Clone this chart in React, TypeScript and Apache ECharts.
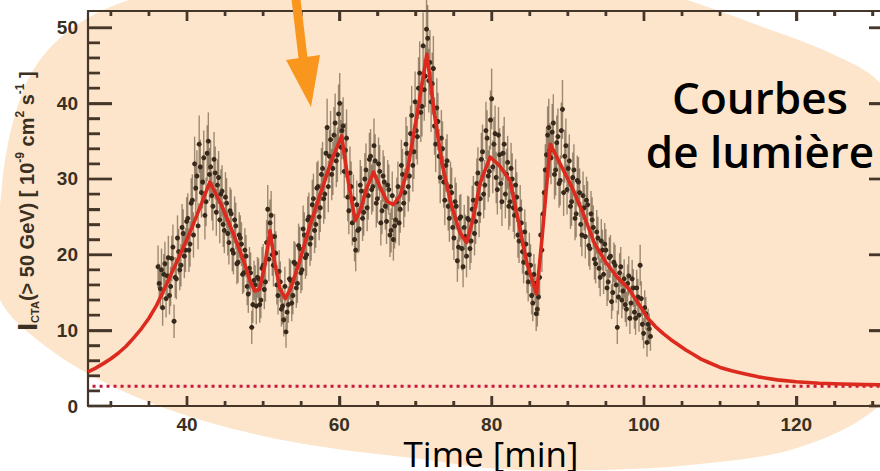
import React, { useEffect, useRef } from "react";
import * as echarts from "echarts";

// ---- observed points, run 1 (time [min], flux, error) ----
const obsTime = [
  36.2, 36.5, 36.8, 37.1, 37.4, 37.7, 38.0, 38.3, 38.6, 38.9, 39.2, 39.5, 39.8, 40.1, 40.4, 40.7, 41.0, 41.3, 41.6, 41.9, 42.2, 42.5, 42.8,
  43.1, 43.4, 43.7, 44.0, 44.3, 44.6, 44.9, 45.2, 45.5, 45.8, 46.1, 46.4, 46.7, 47.0, 47.3, 47.6, 47.9, 48.2, 48.5, 48.8,
  49.1, 49.4, 49.7, 50.0, 50.3, 50.6, 50.9, 51.2, 51.5, 51.8, 52.1, 52.4, 52.7,
  53.0, 53.3, 53.6, 53.9, 54.2, 54.5, 54.8, 55.1, 55.4, 55.7, 56.0, 56.3, 56.6, 56.9, 57.2, 57.5, 57.8, 58.1, 58.4, 58.7, 59.0, 59.3, 59.6, 59.9, 60.2,
  60.5, 60.8, 61.1, 61.4, 61.7, 62.0, 62.3, 62.6, 62.9, 63.2, 63.5, 63.8, 64.1, 64.4, 64.7, 65.0, 65.3, 65.6, 65.9, 66.2, 66.5, 66.8, 67.1,
  67.4, 67.7, 68.0, 68.3, 68.6, 68.9, 69.2, 69.5, 69.8, 70.1, 70.4, 70.7, 71.0, 71.3,
  71.6, 71.9, 72.2, 72.5, 72.8, 73.1, 73.4, 73.7, 74.0, 74.3, 74.6, 74.9, 75.2, 75.5, 75.8, 76.1, 76.4, 76.7,
  77.0, 77.3, 77.6, 77.9, 78.2, 78.5, 78.8, 79.1, 79.4, 79.7, 80.0, 80.3, 80.6, 80.9, 81.2, 81.5, 81.8, 82.1, 82.4,
  82.7, 83.0, 83.3, 83.6, 83.9, 84.2, 84.5, 84.8, 85.1, 85.4, 85.7,
  86.0, 86.3, 86.6, 86.9, 87.2, 87.5,
  87.8, 88.1, 88.4, 88.7, 89.0, 89.3, 89.6, 89.9, 90.2, 90.5, 90.8, 91.1, 91.4, 91.7, 92.0, 92.3, 92.6, 92.9, 93.2, 93.5, 93.8, 94.1,
  94.4, 94.7, 95.0, 95.3, 95.6, 95.9, 96.2, 96.5, 96.8, 97.1, 97.4, 97.7, 98.0, 98.3, 98.6, 98.9, 99.2, 99.5, 99.8, 100.1, 100.4, 100.7,
];
const obsFlux = [
  18.4, 15.5, 13.0, 18.8, 17.2, 14.6, 19.5, 11.2, 16.8, 20.4, 18.6, 22.8, 20.6, 24.8, 21.4, 27.2, 32.0, 30.4, 34.6, 28.2, 32.8, 27.0, 35.0,
  31.6, 26.4, 30.8, 29.2, 24.6, 28.4, 23.2, 26.8, 21.6, 25.4, 20.2, 23.8, 19.0, 22.2, 17.4, 20.6, 15.8, 18.2, 10.4, 16.6,
  13.2, 16.8, 14.0, 18.6, 16.4, 26.0, 24.2, 20.0, 22.4, 16.0, 17.8, 12.8, 11.4,
  9.8, 13.4, 16.6, 14.6, 18.8, 16.2, 20.8, 18.0, 22.6, 20.0, 25.0, 22.2, 27.4, 24.0, 29.0, 26.2, 31.4, 28.0, 36.8, 33.0, 30.6, 35.8, 32.4, 38.6, 34.2,
  37.0, 33.8, 27.6, 30.8, 24.2, 22.0, 26.6, 23.4, 28.4, 25.6, 31.2, 27.8, 33.0, 29.0, 32.4, 27.4, 31.0, 25.8, 29.6, 24.4, 28.6, 23.2, 22.0,
  24.6, 29.0, 26.0, 30.6, 28.2, 33.4, 30.4, 38.4, 33.6, 36.4, 42.0, 38.8, 47.6, 43.6,
  48.6, 45.4, 42.6, 37.0, 39.4, 33.0, 35.4, 29.6, 31.8, 26.4, 29.0, 23.6, 27.0, 19.2, 24.8, 20.8, 23.6, 19.8,
  24.6, 21.8, 27.2, 24.4, 30.8, 27.4, 33.6, 29.2, 35.4, 31.0, 40.6, 34.6, 30.2, 35.8, 29.4, 33.4, 28.0, 32.2, 27.0,
  30.0, 25.2, 27.6, 21.8, 24.2, 19.0, 21.4, 16.4, 18.6, 13.6, 16.2,
  12.8, 17.0, 20.6, 28.2, 33.2, 36.8,
  32.8, 37.4, 31.2, 35.6, 29.8, 39.2, 33.0, 28.6, 32.4, 27.0, 31.2, 25.4, 29.6, 24.0, 27.8, 22.4, 26.6, 20.8, 24.6, 19.4, 23.0, 18.2,
  21.8, 17.4, 20.6, 16.4, 19.8, 15.0, 18.6, 10.4, 17.6, 14.0, 16.8, 12.8, 17.2, 13.6, 15.6, 11.6, 14.4, 18.6, 10.8, 13.0, 8.4, 10.2,
];
const obsErr = [
  2.8, 2.6, 2.4, 2.9, 2.7, 2.5, 3.0, 2.2, 2.7, 3.0, 2.8, 3.2, 2.9, 3.3, 3.0, 3.4, 3.6, 3.4, 3.8, 3.3, 3.6, 3.2, 3.8,
  3.5, 3.2, 3.5, 3.4, 3.1, 3.4, 3.0, 3.3, 2.9, 3.2, 2.8, 3.1, 2.7, 3.0, 2.6, 2.9, 2.5, 2.8, 2.2, 2.6,
  2.4, 2.7, 2.4, 2.8, 2.6, 3.2, 3.1, 2.8, 3.0, 2.6, 2.8, 2.3, 2.2,
  2.1, 2.4, 2.7, 2.5, 2.8, 2.6, 2.9, 2.7, 3.0, 2.8, 3.2, 3.0, 3.3, 3.1, 3.4, 3.2, 3.5, 3.3, 3.8, 3.5, 3.4, 3.7, 3.5, 3.9, 3.6,
  3.8, 3.6, 3.2, 3.5, 3.0, 2.9, 3.2, 3.0, 3.3, 3.1, 3.5, 3.2, 3.6, 3.3, 3.5, 3.2, 3.5, 3.1, 3.4, 3.0, 3.3, 2.9, 2.8,
  3.1, 3.3, 3.1, 3.4, 3.2, 3.6, 3.4, 3.9, 3.6, 3.8, 4.1, 3.9, 4.4, 4.1,
  4.4, 4.3, 4.1, 3.8, 3.9, 3.6, 3.7, 3.4, 3.5, 3.2, 3.3, 3.0, 3.2, 2.8, 3.1, 2.9, 3.0, 2.8,
  3.1, 2.9, 3.2, 3.0, 3.4, 3.2, 3.6, 3.3, 3.7, 3.4, 4.0, 3.6, 3.4, 3.7, 3.4, 3.6, 3.2, 3.5, 3.2,
  3.4, 3.1, 3.3, 2.9, 3.1, 2.8, 2.9, 2.6, 2.8, 2.4, 2.6,
  2.3, 2.6, 2.9, 3.3, 3.6, 3.8,
  3.5, 3.8, 3.4, 3.7, 3.3, 3.9, 3.5, 3.3, 3.5, 3.2, 3.4, 3.1, 3.3, 3.0, 3.2, 2.9, 3.1, 2.8, 3.0, 2.7, 2.9, 2.6,
  2.9, 2.6, 2.8, 2.5, 2.8, 2.4, 2.7, 2.2, 2.6, 2.4, 2.6, 2.3, 2.6, 2.3, 2.5, 2.2, 2.4, 2.7, 2.1, 2.3, 1.9, 2.0,
];

// ---- observed points, run 2 (interleaved) ----
const obsTime2 = [
  36.35, 36.65, 36.95, 37.25, 37.55, 37.85, 38.15, 38.45, 38.75, 39.05, 39.35, 39.65, 39.95, 40.25, 40.55, 40.85, 41.15, 41.45, 41.75, 42.05, 42.35, 42.65, 42.95,
  43.25, 43.55, 43.85, 44.15, 44.45, 44.75, 45.05, 45.35, 45.65, 45.95, 46.25, 46.55, 46.85, 47.15, 47.45, 47.75, 48.05, 48.35, 48.65, 48.95,
  49.25, 49.55, 49.85, 50.15, 50.45, 50.75, 51.05, 51.35, 51.65, 51.95, 52.25, 52.55, 52.85,
  53.15, 53.45, 53.75, 54.05, 54.35, 54.65, 54.95, 55.25, 55.55, 55.85, 56.15, 56.45, 56.75, 57.05, 57.35, 57.65, 57.95, 58.25, 58.55, 58.85, 59.15, 59.45, 59.75, 60.05, 60.35,
  60.65, 60.95, 61.25, 61.55, 61.85, 62.15, 62.45, 62.75, 63.05, 63.35, 63.65, 63.95, 64.25, 64.55, 64.85, 65.15, 65.45, 65.75, 66.05, 66.35, 66.65, 66.95, 67.25,
  67.55, 67.85, 68.15, 68.45, 68.75, 69.05, 69.35, 69.65, 69.95, 70.25, 70.55, 70.85, 71.15, 71.45,
  71.75, 72.05, 72.35, 72.65, 72.95, 73.25, 73.55, 73.85, 74.15, 74.45, 74.75, 75.05, 75.35, 75.65, 75.95, 76.25, 76.55, 76.85,
  77.15, 77.45, 77.75, 78.05, 78.35, 78.65, 78.95, 79.25, 79.55, 79.85, 80.15, 80.45, 80.75, 81.05, 81.35, 81.65, 81.95, 82.25, 82.55,
  82.85, 83.15, 83.45, 83.75, 84.05, 84.35, 84.65, 84.95, 85.25, 85.55, 85.85,
  86.15, 86.45, 86.75, 87.05, 87.35, 87.65,
  87.95, 88.25, 88.55, 88.85, 89.15, 89.45, 89.75, 90.05, 90.35, 90.65, 90.95, 91.25, 91.55, 91.85, 92.15, 92.45, 92.75, 93.05, 93.35, 93.65, 93.95, 94.25,
  94.55, 94.85, 95.15, 95.45, 95.75, 96.05, 96.35, 96.65, 96.95, 97.25, 97.55, 97.85, 98.15, 98.45, 98.75, 99.05, 99.35, 99.65, 99.95, 100.25, 100.55, 100.85,
];
const obsFlux2 = [
  16.2, 18.0, 17.4, 14.2, 19.6, 15.8, 21.0, 17.0, 22.2, 18.0, 23.6, 19.8, 24.4, 20.6, 26.8, 22.6, 28.8, 23.8, 31.6, 29.6, 25.2, 33.4, 30.6,
  27.8, 32.6, 25.6, 30.2, 28.0, 24.0, 27.6, 22.8, 25.8, 20.6, 24.6, 18.8, 22.6, 21.4, 17.6, 19.8, 14.8, 17.6, 13.4, 16.0,
  17.0, 13.4, 18.2, 15.4, 21.6, 19.4, 25.2, 18.6, 20.2, 14.6, 16.4, 13.2, 15.8,
  12.4, 16.8, 13.6, 19.0, 15.6, 21.2, 17.6, 23.4, 19.6, 24.6, 21.4, 26.6, 23.2, 28.8, 25.0, 30.6, 27.4, 33.4, 29.0, 35.2, 31.4, 37.4, 33.2, 40.0, 36.4,
  31.0, 35.4, 25.8, 29.0, 27.4, 20.6, 23.2, 29.2, 24.8, 30.0, 26.2, 32.6, 28.6, 34.4, 26.8, 32.0, 24.2, 30.4, 26.4, 29.2, 22.6, 27.8, 23.8,
  27.0, 24.2, 31.8, 26.8, 34.6, 29.0, 36.0, 31.8, 40.2, 35.6, 44.0, 39.6, 41.8, 49.8,
  43.0, 40.2, 44.6, 34.6, 37.6, 30.2, 34.0, 27.2, 32.4, 24.8, 28.2, 22.2, 26.4, 21.0, 25.0, 18.4, 22.4, 24.8,
  20.8, 26.0, 22.8, 29.4, 25.4, 32.6, 28.0, 36.4, 30.4, 37.8, 31.6, 36.0, 28.6, 33.2, 27.0, 34.6, 30.6, 26.4, 31.4,
  26.2, 29.2, 22.6, 26.0, 20.4, 23.0, 17.6, 20.0, 14.6, 17.4, 12.2,
  14.4, 22.6, 25.4, 31.2, 35.8, 33.8,
  36.2, 30.6, 34.8, 29.4, 36.4, 28.2, 34.4, 31.4, 26.4, 30.2, 24.8, 29.8, 28.2, 22.6, 26.2, 27.2, 21.2, 25.4, 23.6, 18.8, 22.2, 17.0,
  20.6, 21.4, 15.6, 19.6, 13.8, 19.0, 16.0, 14.4, 18.4, 15.2, 13.4, 16.2, 11.6, 16.8, 12.4, 15.6, 12.0, 14.2, 9.6, 12.2, 10.8, 9.2,
];
const obsErr2 = [
  2.6, 2.8, 2.7, 2.5, 2.9, 2.6, 3.0, 2.7, 3.0, 2.7, 3.1, 2.9, 3.2, 2.9, 3.3, 3.0, 3.4, 3.1, 3.6, 3.5, 3.2, 3.7, 3.5,
  3.3, 3.6, 3.1, 3.5, 3.3, 3.0, 3.3, 2.9, 3.1, 2.8, 3.1, 2.7, 3.0, 2.9, 2.6, 2.8, 2.5, 2.7, 2.4, 2.6,
  2.7, 2.4, 2.8, 2.6, 3.0, 2.9, 3.2, 2.8, 2.9, 2.5, 2.7, 2.4, 2.6,
  2.3, 2.7, 2.4, 2.8, 2.6, 2.9, 2.7, 3.1, 2.8, 3.1, 2.9, 3.3, 3.0, 3.4, 3.1, 3.5, 3.3, 3.6, 3.4, 3.8, 3.5, 3.9, 3.6, 4.0, 3.8,
  3.5, 3.8, 3.1, 3.3, 3.2, 2.8, 3.0, 3.3, 3.0, 3.4, 3.1, 3.5, 3.3, 3.6, 3.2, 3.5, 3.0, 3.4, 3.1, 3.3, 2.9, 3.2, 3.0,
  3.2, 3.0, 3.4, 3.2, 3.6, 3.3, 3.7, 3.5, 4.0, 3.7, 4.2, 4.0, 4.1, 4.5,
  4.2, 4.0, 4.3, 3.7, 3.8, 3.4, 3.6, 3.3, 3.5, 3.1, 3.3, 2.9, 3.1, 2.9, 3.0, 2.7, 2.9, 3.0,
  2.8, 3.1, 2.9, 3.3, 3.1, 3.5, 3.2, 3.8, 3.4, 3.9, 3.5, 3.7, 3.3, 3.5, 3.2, 3.6, 3.4, 3.1, 3.4,
  3.2, 3.4, 3.0, 3.2, 2.9, 3.0, 2.7, 2.9, 2.5, 2.7, 2.3,
  2.5, 2.8, 3.1, 3.4, 3.8, 3.6,
  3.7, 3.3, 3.6, 3.2, 3.7, 3.1, 3.6, 3.3, 3.0, 3.3, 2.9, 3.3, 3.2, 2.8, 3.0, 3.1, 2.7, 3.0, 2.9, 2.6, 2.8, 2.5,
  2.7, 2.8, 2.4, 2.7, 2.3, 2.6, 2.4, 2.3, 2.6, 2.4, 2.3, 2.5, 2.1, 2.5, 2.2, 2.4, 2.2, 2.3, 2.0, 2.2, 2.1, 1.9,
];

// ---- fitted light-curve model ----
const modelTime = [
  27, 28, 29, 30, 31, 32, 33, 34, 35, 36, 37, 38, 39, 40.5, 42, 43.0, 44.5, 46, 47.5, 48.3, 48.9, 49.5, 50.2, 50.9, 51.5, 52.2, 52.9, 53.6,
  54.8, 56, 57.5, 59, 60.3, 61.2, 62.1, 62.8, 63.6, 64.5, 65.5, 66.3, 67.1, 68, 69, 70.2, 71.5, 72.5, 73.5, 74.6, 75.8, 76.7,
  77.5, 78.5, 79.8, 81, 82.4, 83.5, 84.6, 85.9, 86.6, 87.7, 89, 90.5, 92, 93.5, 95, 96.5, 98, 99.5, 100.5, 101.5, 102.5, 103.5,
  104.5, 105.5, 106.5, 107.5, 108.5, 110, 111.5, 113, 115, 117.5, 120, 123, 126, 129, 132.7,
];
const modelFlux = [
  4.5, 5.0, 5.6, 6.25, 7.0, 7.9, 9.0, 10.2, 11.6, 13.3, 15.4, 17.6, 19.8, 23.2, 27.0, 29.6, 26.6, 23.0, 19.0, 16.5, 15.2, 15.4, 18.5, 23.2, 19.0, 15.5, 14.2, 15.5,
  19.2, 23.4, 28.0, 32.5, 35.7, 29.5, 24.5, 26.0, 28.8, 30.9, 28.6, 27.0, 26.6, 27.8, 31.5, 38.5, 46.5, 38.5, 32.0, 27.0, 23.0, 21.6,
  24.5, 29.5, 32.9, 31.8, 29.8, 24.5, 19.0, 14.8, 22.0, 34.6, 32.0, 29.0, 25.5, 21.5, 19.0, 17.0, 15.5, 13.2, 11.6, 10.5, 9.6, 8.8,
  8.1, 7.4, 6.8, 6.2, 5.75, 5.1, 4.65, 4.3, 3.85, 3.45, 3.2, 3.0, 2.9, 2.82, 2.78,
];

// ---- constant baseline (dotted) ----
const baselineTime = [27.6, 132.7];
const baselineFlux = [2.6, 2.6];

// ---- ticks / labels ----
const xLabelValues = [40, 60, 80, 100, 120];
const xMinorValues = [30, 35, 45, 50, 55, 65, 70, 75, 85, 90, 95, 105, 110, 115, 125, 130];
const yLabelValues = [0, 10, 20, 30, 40, 50];
const yMinorValues = [2, 4, 6, 8, 12, 14, 16, 18, 22, 24, 26, 28, 32, 34, 36, 38, 42, 44, 46, 48];

const X_MIN = 27;
const X_MAX = 132.7;
const Y_MIN = 0;
const Y_MAX = 52.2;

const AXIS_COLOR = "#45362a";
const LABEL_COLOR = "#3a3022";
const CANVAS_W = 900;
const GRID = { left: 88, right: 7, top: 11, bottom: 65 };
const CANVAS_H = 471;

const labelFont = { fontSize: 19, fontWeight: "bold", fontFamily: "Liberation Sans", color: LABEL_COLOR };

export default function App() {
  const ref = useRef<HTMLDivElement>(null);

  useEffect(() => {
    document.body.style.margin = "0";
    if (!ref.current) return;
    const chart = echarts.init(ref.current, undefined, { renderer: "svg" });

    // rows: [x, y, err, kind, tickLength]; kind 0 = measured point, 1 = tick on x axes, 2 = tick on y axes
    const rows = [
      ...obsTime.map((t, i) => [t, obsFlux[i], obsErr[i], 0, 0]),
      ...obsTime2.map((t, i) => [t, obsFlux2[i], obsErr2[i], 0, 0]),
      ...xLabelValues.map((v) => [v, Y_MIN, 0, 1, 10]),
      ...xMinorValues.map((v) => [v, Y_MIN, 0, 1, 5]),
      ...yLabelValues.map((v) => [X_MIN, v, 0, 2, 24]),
      ...yMinorValues.map((v) => [X_MIN, v, 0, 2, 12]),
    ];
    const modelData = modelTime.map((t, i) => [t, modelFlux[i]]);
    const baseData = baselineTime.map((t, i) => [t, baselineFlux[i]]);

    // tick marks as markLines, lengths converted from pixels into axis units
    const pxPerX = (CANVAS_W - GRID.left - GRID.right) / (X_MAX - X_MIN);
    const pxPerY = (CANVAS_H - GRID.top - GRID.bottom) / (Y_MAX - Y_MIN);
    const tickLines: any[] = [];
    const xt = (vals: number[], len: number) =>
      vals.forEach((v) => {
        tickLines.push([{ coord: [v, Y_MIN] }, { coord: [v, Y_MIN + len / pxPerY] }]);
        tickLines.push([{ coord: [v, Y_MAX] }, { coord: [v, Y_MAX - len / pxPerY] }]);
      });
    const yt = (vals: number[], len: number) =>
      vals.forEach((v) => {
        tickLines.push([{ coord: [X_MIN, v] }, { coord: [X_MIN + len / pxPerX, v] }]);
        tickLines.push([{ coord: [X_MAX, v] }, { coord: [X_MAX - len / pxPerX, v] }]);
      });
    xt(xLabelValues, 10);
    xt(xMinorValues, 5);
    yt(yLabelValues, 24);
    yt(yMinorValues, 12);

    const frameAxis = (extra: any) => ({
      type: "value",
      axisLine: { show: true, onZero: false, lineStyle: { color: AXIS_COLOR, width: 2.2 } },
      axisTick: { show: false },
      splitLine: { show: false },
      ...extra,
    });

    const yName =
      "{i|I}{sub|CTA}{a|(> 50 GeV) [ 10}{sup|-9}{a| cm}{sup|2}{a| s}{sup|-1}{a| ]}";

    const option: any = {
      animation: false,
      backgroundColor: "transparent",
      grid: GRID,
      xAxis: [
        frameAxis({
          position: "bottom",
          min: X_MIN,
          max: X_MAX,
          axisLabel: { show: true, customValues: xLabelValues, margin: 9, ...labelFont },
        }),
        frameAxis({ position: "top", min: X_MIN, max: X_MAX, axisLabel: { show: false } }),
      ],
      yAxis: [
        frameAxis({
          position: "left",
          min: Y_MIN,
          max: Y_MAX,
          axisLabel: { show: true, customValues: yLabelValues, margin: 10, ...labelFont },
        }),
        frameAxis({ position: "right", min: Y_MIN, max: Y_MAX, axisLabel: { show: false } }),
      ],
      series: [
        {
          type: "custom",
          xAxisIndex: 0,
          yAxisIndex: 0,
          z: 2,
          clip: false,
          data: rows,
          encode: { x: 0, y: 1 },
          renderItem: (params: any, api: any) => {
            const t = api.value(0);
            const v = api.value(1);
            const kind = api.value(3);
            if (kind === 0) {
              const e = api.value(2);
              const top = api.coord([t, v + e]);
              const bot = api.coord([t, v - e]);
              const c = api.coord([t, v]);
              return {
                type: "group",
                children: [
                  {
                    type: "line",
                    shape: { x1: top[0], y1: top[1], x2: bot[0], y2: bot[1] },
                    style: { stroke: "rgba(78,62,40,0.55)", lineWidth: 1.4 },
                  },
                  {
                    type: "circle",
                    shape: { cx: c[0], cy: c[1], r: 2.5 },
                    style: { fill: "#36281a" },
                  },
                ],
              };
            }
            const len = api.value(4);
            const lo = api.coord([X_MIN, Y_MIN]);
            const hi = api.coord([X_MAX, Y_MAX]);
            const p = api.coord([t, v]);
            if (kind === 1) {
              return {
                type: "group",
                children: [
                  { type: "line", shape: { x1: p[0], y1: lo[1], x2: p[0], y2: lo[1] - len }, style: { stroke: AXIS_COLOR, lineWidth: 2.4 } },
                  { type: "line", shape: { x1: p[0], y1: hi[1], x2: p[0], y2: hi[1] + len }, style: { stroke: AXIS_COLOR, lineWidth: 2.4 } },
                ],
              };
            }
            return {
              type: "group",
              children: [
                { type: "line", shape: { x1: lo[0], y1: p[1], x2: lo[0] + len, y2: p[1] }, style: { stroke: AXIS_COLOR, lineWidth: 2.4 } },
                { type: "line", shape: { x1: hi[0], y1: p[1], x2: hi[0] - len, y2: p[1] }, style: { stroke: AXIS_COLOR, lineWidth: 2.4 } },
              ],
            };
          },
        },
        {
          type: "line",
          xAxisIndex: 0,
          yAxisIndex: 0,
          z: 3,
          data: baseData,
          showSymbol: false,
          symbol: "none",
          lineStyle: { color: "#c8183a", width: 3, type: [3, 4], cap: "butt" },
          markLine: {
            silent: true,
            symbol: ["none", "none"],
            label: { show: false },
            lineStyle: { color: AXIS_COLOR, width: 2.4, type: "solid" },
            data: tickLines,
          },
        },
        {
          type: "line",
          xAxisIndex: 0,
          yAxisIndex: 0,
          z: 4,
          data: modelData,
          showSymbol: false,
          symbol: "none",
          smooth: false,
          lineStyle: { color: "#dc2a1e", width: 3.6, join: "round" },
        },
      ],
      graphic: [
        {
          type: "polygon",
          z: -100,
          silent: true,
          shape: {
            smooth: 0.35,
            points: [
              [-6, 250], [0, 205], [5, 160], [15, 115], [32, 72], [60, 38], [95, 14], [132, -1], [220, -28], [410, -45],
              [600, -25], [687, 0], [760, 26], [830, 53], [880, 83], [918, 150], [932, 245], [918, 340],
              [880, 405], [800, 447], [700, 464], [600, 470], [500, 469], [420, 459], [330, 448], [250, 433],
              [170, 410], [100, 380], [40, 342], [0, 300],
            ],
          },
          style: { fill: "#fde5cb" },
        },
        {
          type: "polygon",
          z: 100,
          shape: { points: [[291, -5], [300, -5], [308, 62], [299, 62]] },
          style: { fill: "#f8961e" },
        },
        {
          type: "polygon",
          z: 100,
          shape: { points: [[286, 60], [320, 55], [311, 107]] },
          style: { fill: "#f8961e" },
        },
        {
          type: "text",
          z: 100,
          x: 760,
          y: 124,
          style: {
            text: "Courbes\nde lumière",
            fontFamily: "Open Sans",
            fontWeight: 600,
            fontSize: 44,
            lineHeight: 54,
            fill: "#000",
            align: "center",
            verticalAlign: "middle",
          },
        },
        {
          type: "text",
          z: 100,
          x: 491,
          y: 453,
          style: {
            text: "Time [min]",
            fontFamily: "Open Sans",
            fontWeight: 400,
            fontSize: 35,
            lineHeight: 36,
            fill: "#000",
            align: "center",
            verticalAlign: "middle",
          },
        },
        {
          type: "text",
          z: 100,
          x: 27,
          y: 201,
          rotation: Math.PI / 2,
          style: {
            text: yName,
            align: "center",
            verticalAlign: "middle",
            fill: LABEL_COLOR,
            rich: {
              i: { fontFamily: "Liberation Sans", fontWeight: "bold", fontSize: 28, lineHeight: 27, fill: LABEL_COLOR },
              a: { fontFamily: "Liberation Sans", fontWeight: "bold", fontSize: 20, lineHeight: 27, fill: LABEL_COLOR },
              sub: { fontFamily: "Liberation Sans", fontWeight: "bold", fontSize: 11, lineHeight: 11, verticalAlign: "bottom", fill: LABEL_COLOR },
              sup: { fontFamily: "Liberation Sans", fontWeight: "bold", fontSize: 12, lineHeight: 12, verticalAlign: "top", fill: LABEL_COLOR },
            },
          },
        },
      ],
    };

    chart.setOption(option);
    return () => chart.dispose();
  }, []);

  return (
    <div style={{ position: "absolute", left: 0, top: 0, width: 880, height: 471, overflow: "hidden", background: "#fff" }}>
      <div ref={ref} style={{ width: CANVAS_W, height: CANVAS_H }} />
    </div>
  );
}
